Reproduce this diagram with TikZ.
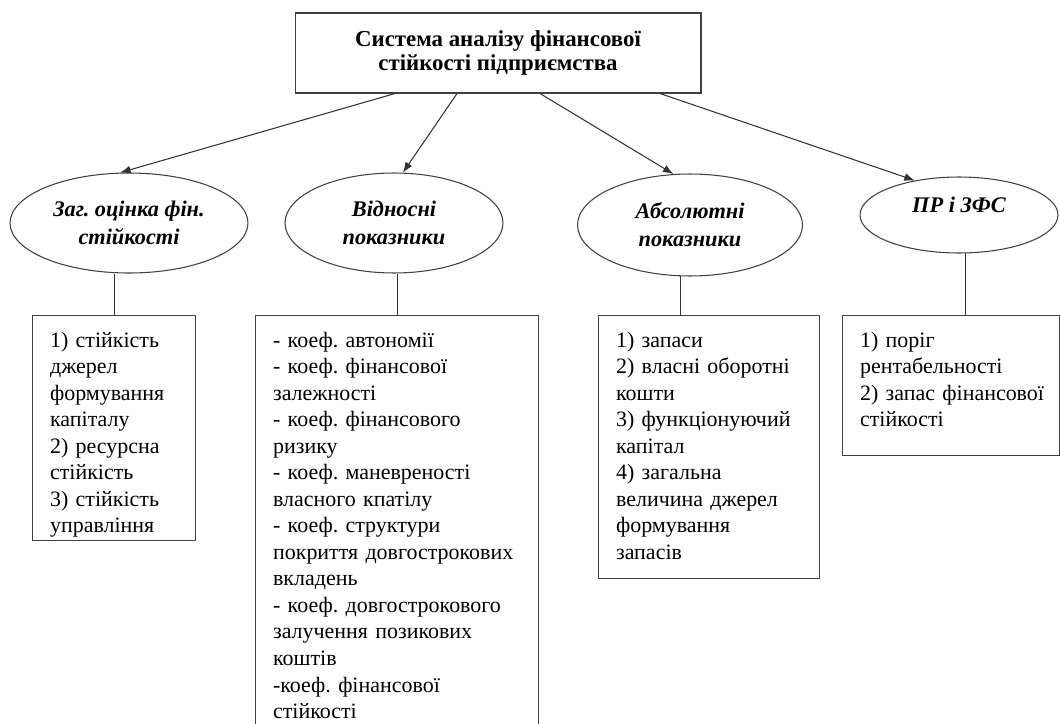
\documentclass[tikz,border=0pt]{standalone}
\usepackage{fontspec}
\setmainfont{Liberation Serif}
\frenchspacing
\usetikzlibrary{shapes.geometric,arrows.meta}

\begin{document}
\begin{tikzpicture}[x=0.02cm,y=-0.02cm,semithick,
                    >={Latex[length=6pt,width=4.5pt]}]
  \tikzstyle{every edge}=[draw,black!80]
  \tikzstyle{headbox}=[draw=black!75,rectangle,align=center,
      minimum width=8.12cm,minimum height=1.6cm,
      font=\bfseries\fontsize{13}{13.2}\selectfont]
  \tikzstyle{group}=[draw=black!75,ellipse,inner sep=0pt,align=center,
      font=\bfseries\itshape\fontsize{12.7}{16}\selectfont]
  \tikzstyle{listbox}=[draw=black!75,rectangle,anchor=north west,align=left,
      inner xsep=10pt,inner ysep=8pt,text height=10pt,
      font=\fontsize{12.5}{15.1}\selectfont]

  \useasboundingbox (0,0) rectangle (1060,723);

	\node[headbox]	(sys)	at (498,53)	{Система аналізу фінансової\\стійкості підприємства};

	\node[group, minimum width=4.76cm, minimum height=2cm]	(e1)	at (129,223)	{Заг. оцінка фін.\\стійкості};
	\node[group, minimum width=4.36cm, minimum height=2cm]	(e2)	at (394,223)	{Відносні\\показники};
	\node[group, minimum width=4.5cm, minimum height=2.04cm]	(e3)	at (690,225)	{Абсолютні\\показники};
	\node[group, minimum width=3.96cm, minimum height=1.52cm, text depth=11.4pt]	(e4)	at (959,215)	{ПР і ЗФС};

	\node[listbox, text width=72.8pt, text depth=102pt]	(b1)	at (32,315)
		{1) стійкість\\джерел\\формування\\капіталу\\2) ресурсна\\стійкість\\3) стійкість\\управління};
	\node[listbox, text width=141.1pt, text depth=219pt]	(b2)	at (255,315)
		{- коеф. автономії\\- коеф. фінансової\\залежності\\- коеф. фінансового\\ризику\\- коеф. маневреності\\власного кпатілу\\- коеф. структури\\покриття довгострокових\\вкладень\\- коеф. довгострокового\\залучення позикових\\коштів\\-коеф. фінансової\\стійкості};
	\node[listbox, text width=105.8pt, text depth=123.7pt]	(b3)	at (598,315)
		{1) запаси\\2) власні оборотні\\кошти\\3) функціонуючий\\капітал\\4) загальна\\величина джерел\\формування\\запасів};
	\node[listbox, text width=103.5pt, text depth=53.7pt]	(b4)	at (842,315)
		{1) поріг\\рентабельності\\2)~запас~фінансової\\стійкості};

	\path[->]
		([xshift=-2.06cm]sys.south)	edge	(e1.100)
		([xshift=-0.82cm]sys.south)	edge	(e2.80)
		([xshift=0.84cm]sys.south)	edge	(e3.108)
		([xshift=3.24cm]sys.south)	edge	(e4.142);

	\path
		(b1.north)	edge	(b1.north |- e1.south)
		(b2.north)	edge	(b2.north |- e2.south)
		(e3.259)	edge	(e3.259 |- b3.north)
		(e4.279)	edge	(e4.279 |- b4.north);

\end{tikzpicture}
\end{document}
